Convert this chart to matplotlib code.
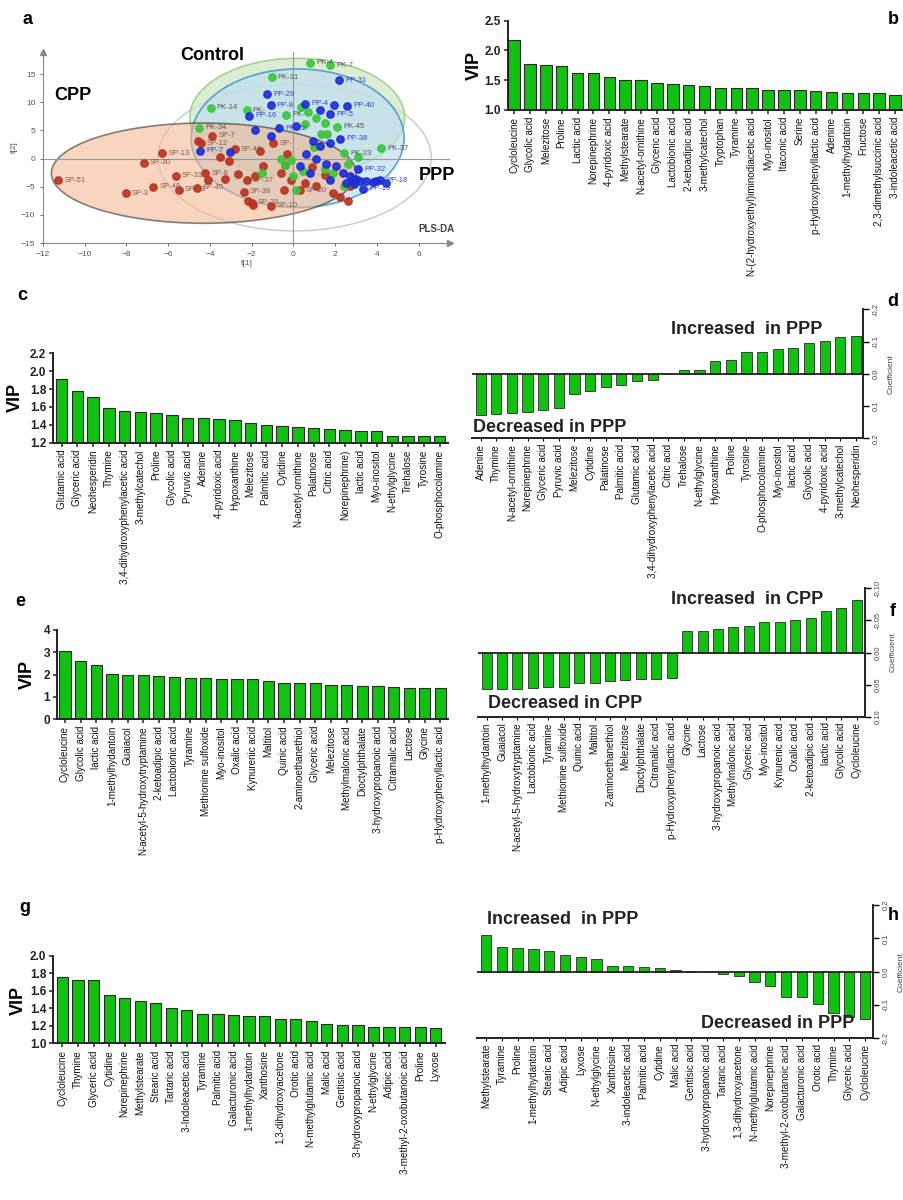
import numpy as np
import matplotlib
matplotlib.use("Agg")
import matplotlib.pyplot as plt
from matplotlib.patches import Ellipse

plt.rcParams["font.family"] = ["Liberation Sans", "DejaVu Sans"]

W, H = 904, 1200
GREEN = "#12c012"
EDGE = "#2a2a2a"

# ---------------- panel a: PLS-DA scores ----------------
sp_x = [-11.27, -8.04, -7.17, -6.30, -6.73, -5.49, -5.65, -4.24, -4.09, -4.63, -3.89, -4.44,
        -3.53, -3.27, -2.68, -2.25, -1.85, -1.45, -2.39, -2.01, -1.95, -1.10, -0.97, -0.42,
        -0.46, -0.13, 0.54, 0.30, 1.10, 1.90, 2.22, 2.60, -4.55, 2.70, -2.81, -1.60, -3.10,
        -0.60, 0.90, 1.50, -0.30, -2.20]
sp_y = [-3.85, -6.15, -0.77, 0.95, -4.97, -5.56, -3.02, -2.60, -3.79, -5.21, 4.02, 2.72,
        0.24, -3.67, -2.78, -3.85, -3.02, -1.30, -5.92, -7.81, -8.20, -8.40, 2.72, -1.12,
        -5.62, -3.85, -4.38, -5.62, -4.85, -6.04, -6.92, -7.50, 3.10, -4.90, 1.66, 1.40,
        -0.50, -2.50, -1.50, -3.00, 0.80, -7.60]
sp_lab = ["SP-51", "SP-3", "SP-30", "SP-13", "SP-48", "SP-43", "SP-31", "SP-8", "", "SP-45",
          "SP-7", "SP-12", "", "", "", "SP-37", "", "", "SP-38", "SP-28", "", "SP-10", "SP-",
          "", "", "", "", "SP-20", "", "", "", "", "", "", "SP-46", "", "", "", "", "", "", ""]

pk_x = [0.78, 1.74, -1.05, -3.97, -2.25, -0.34, 0.38, 0.70, 1.10, 1.50, 0.55, 2.09, 1.30,
        1.60, 4.18, 2.41, -4.53, -0.58, -0.10, -0.42, 0.46, 1.90, 0.14, 2.40, 0.00, 1.50,
        2.90, 3.10, 1.00, 2.60, -1.50]
pk_y = [17.04, 16.57, 14.44, 8.99, 8.58, 7.81, 9.23, 8.17, 7.22, 6.27, 6.10, 5.68, 4.30,
        4.30, 1.78, 0.95, 5.50, 0.00, -0.30, -1.20, -2.19, -2.50, -5.56, -4.80, -3.10, -1.90,
        -4.60, 0.20, 2.00, -1.00, -2.60]
pk_lab = ["PK-4", "PK-7", "PK-31", "PK-14", "PK-", "PK-", "", "", "", "", "", "PK-45",
          "", "", "PK-37", "PK-23", "PK-34", "", "", "", "", "", "", "", "", "", "",
          "", "", "", ""]

pp_x = [2.19, -1.26, -1.10, -2.14, 0.54, 1.26, 1.95, 2.58, 1.74, 0.14, -0.70, -1.85, -1.10,
        2.22, -4.48, -3.05, 0.95, 1.26, 1.74, 3.09, 3.49, 3.97, 4.45, 3.33, 0.62, 1.10, 1.58,
        2.06, 2.38, 2.70, 3.02, 0.30, 0.78, 2.86, 3.18, 3.81, 4.13, 1.74, 2.90, 2.50]
pp_y = [13.90, 11.42, 9.47, 7.63, 9.70, 8.58, 9.59, 9.35, 7.87, 5.80, 5.38, 5.03, 4.00,
        3.55, 1.36, 1.07, 3.10, 2.20, 2.80, -1.89, -3.96, -3.96, -4.26, -5.33, 0.77, -0.12,
        -1.00, -1.30, -2.50, -3.10, -3.70, -1.30, -2.50, -3.85, -4.00, -4.20, -3.85, -3.85,
        -4.50, -4.40]
pp_lab = ["PP-31", "PP-29", "PP-8", "PP-16", "PP-4", "", "", "PP-40", "PP-5", "",
          "PP-22", "", "", "PP-38", "PP-7", "", "", "", "", "PP-32", "", "", "", "PP-19",
          "", "", "", "", "", "", "", "", "", "", "", "", "PP-18", "", "", ""]

# ---------------- panel b ----------------
b_names = ["Cycloleucine", "Glycolic acid", "Melezitose", "Proline", "Lactic acid",
           "Norepinephrine", "4-pyridoxic acid", "Methylstearate", "N-acetyl-ornithine",
           "Glyceric acid", "Lactobionic acid", "2-ketoadipic acid", "3-methylcatechol",
           "Tryptophan", "Tyramine", "N-(2-hydroxyethyl)iminodiacetic acid", "Myo-inositol",
           "Itaconic acid", "Serine", "p-Hydroxyphenyllactic acid", "Adenine",
           "1-methylhydantoin", "Fructose", "2,3-dimethylsuccinic acid", "3-indoleacetic acid"]
b_vip = [2.18, 1.78, 1.76, 1.74, 1.62, 1.62, 1.55, 1.50, 1.50, 1.46, 1.43, 1.42, 1.40, 1.37,
         1.37, 1.37, 1.34, 1.34, 1.33, 1.32, 1.31, 1.29, 1.28, 1.28, 1.26]

# ---------------- panel c ----------------
c_names = ["Glutamic acid", "Glyceric acid", "Neohesperidin", "Thymine",
           "3,4-dihydroxyphenylacetic acid", "3-methylcatechol", "Proline", "Glycolic acid",
           "Pyruvic acid", "Adenine", "4-pyridoxic acid", "Hypoxanthine", "Melezitose",
           "Palmitic acid", "Cytidine", "N-acetyl-ornithine", "Palatinose", "Citric acid",
           "Norepinephrine)", "lactic acid", "Myo-inositol", "N-ethylglycine", "Trehalose",
           "Tyrosine", "O-phosphocolamine"]
c_vip = [1.91, 1.78, 1.71, 1.59, 1.56, 1.54, 1.53, 1.51, 1.48, 1.48, 1.46, 1.45, 1.42, 1.40,
         1.39, 1.38, 1.36, 1.35, 1.34, 1.33, 1.33, 1.28, 1.28, 1.27, 1.27]

# ---------------- panel d ----------------
d_names = ["Adenine", "Thymine", "N-acetyl-ornithine", "Norepinephrine", "Glyceric acid",
           "Pyruvic acid", "Melezitose", "Cytidine", "Palatinose", "Palmitic acid",
           "Glutamic acid", "3,4-dihydroxyphenylacetic acid", "Citric acid", "Trehalose",
           "N-ethylglycine", "Hypoxanthine", "Proline", "Tyrosine", "O-phosphocolamine",
           "Myo-inositol", "lactic acid", "Glycolic acid", "4-pyridoxic acid",
           "3-methylcatechol", "Neohesperidin"]
d_coef = [0.127, 0.124, 0.123, 0.119, 0.111, 0.107, 0.062, 0.052, 0.040, 0.036, 0.021, 0.020,
          0.0, -0.011, -0.013, -0.039, -0.043, -0.067, -0.067, -0.077, -0.081, -0.094,
          -0.103, -0.114, -0.117]

# ---------------- panel e ----------------
e_names = ["Cycloleucine", "Glycolic acid", "lactic acid", "1-methylhydantoin", "Guaiacol",
           "N-acetyl-5-hydroxytryptamine", "2-ketoadipic acid", "Lactobionic acid", "Tyramine",
           "Methionine sulfoxide", "Myo-inositol", "Oxalic acid", "Kynurenic acid", "Maltitol",
           "Quinic acid", "2-aminoethanethiol", "Glyceric acid", "Melezitose",
           "Methylmalonic acid", "Dioctylphthalate", "3-hydroxypropanoic acid",
           "Citramalic acid", "Lactose", "Glycine", "p-Hydroxyphenyllactic acid"]
e_vip = [3.07, 2.62, 2.43, 2.02, 1.99, 1.98, 1.95, 1.90, 1.86, 1.86, 1.81, 1.81, 1.81, 1.69,
         1.63, 1.62, 1.60, 1.54, 1.53, 1.50, 1.50, 1.42, 1.41, 1.41, 1.38]

# ---------------- panel f ----------------
f_names = ["1-methylhydantoin", "Guaiacol", "N-acetyl-5-hydroxytryptamine", "Lactobionic acid",
           "Tyramine", "Methionine sulfoxide", "Quinic acid", "Maltitol", "2-aminoethanethiol",
           "Melezitose", "Dioctylphthalate", "Citramalic acid", "p-Hydroxyphenyllactic acid",
           "Glycine", "Lactose", "3-hydroxypropanoic acid", "Methylmalonic acid",
           "Glyceric acid", "Myo-inositol", "Kynurenic acid", "Oxalic acid",
           "2-ketoadipic acid", "lactic acid", "Glycolic acid", "Cycloleucine"]
f_coef = [0.057, 0.057, 0.057, 0.055, 0.054, 0.053, 0.047, 0.047, 0.045, 0.043, 0.042, 0.041,
          0.039, -0.033, -0.034, -0.036, -0.039, -0.042, -0.047, -0.047, -0.051, -0.053,
          -0.065, -0.070, -0.082]

# ---------------- panel g ----------------
g_names = ["Cycloleucine", "Thymine", "Glyceric acid", "Cytidine", "Norepinephrine",
           "Methylstearate", "Stearic acid", "Tartaric acid", "3-Indoleacetic acid",
           "Tyramine", "Palmitic acid", "Galacturonic acid", "1-methylhydantoin", "Xanthosine",
           "1,3-dihydroxyacetone", "Orotic acid", "N-methylglutamic acid", "Malic acid",
           "Gentisic acid", "3-hydroxypropanoic acid", "N-ethylglycine", "Adipic acid",
           "3-methyl-2-oxobutanoic acid", "Proline", "Lyxose"]
g_vip = [1.76, 1.73, 1.73, 1.55, 1.52, 1.49, 1.46, 1.41, 1.38, 1.34, 1.34, 1.32, 1.31, 1.31,
         1.28, 1.28, 1.25, 1.22, 1.21, 1.21, 1.19, 1.19, 1.19, 1.19, 1.18]

# ---------------- panel h ----------------
h_names = ["Methylstearate", "Tyramine", "Proline", "1-methylhydantoin", "Stearic acid",
           "Adipic acid", "Lyxose", "N-ethylglycine", "Xanthosine", "3-indoleacetic acid",
           "Palmitic acid", "Cytidine", "Malic acid", "Gentisic acid",
           "3-hydroxypropanoic acid", "Tartaric acid", "1,3-dihydroxyacetone",
           "N-methylglutamic acid", "Norepinephrine", "3-methyl-2-oxobutanoic acid",
           "Galacturonic acid", "Orotic acid", "Thymine", "Glyceric acid", "Cycloleucine"]
h_coef = [0.110, 0.075, 0.070, 0.068, 0.063, 0.049, 0.045, 0.037, 0.018, 0.016, 0.013, 0.010,
          0.005, 0.002, 0.0, -0.008, -0.013, -0.030, -0.043, -0.077, -0.077, -0.098, -0.123,
          -0.135, -0.143]


def rect(x0, y0, x1, y1):
    # pixel box (top-left origin) -> figure fraction
    return [x0 / W, 1 - y1 / H, (x1 - x0) / W, (y1 - y0) / H]


def ftext(x, y, s, **kw):
    fig.text(x / W, 1 - y / H, s, **kw)


def vip_panel(box, names, vals, xlim, ylim, yticks, fmt):
    ax = fig.add_axes(rect(*box))
    x = np.arange(len(vals))
    ax.bar(x, vals, width=0.72, color=GREEN, edgecolor=EDGE, linewidth=0.8)
    ax.set_xlim(*xlim)
    ax.set_ylim(*ylim)
    ax.set_yticks(yticks)
    ax.set_yticklabels([fmt % v for v in yticks], fontsize=8.5, fontweight="bold", color="#222")
    ax.set_xticks(x)
    ax.set_xticklabels(names, rotation=90, fontsize=7.1, color="#111")
    for s in ("top", "right"):
        ax.spines[s].set_visible(False)
    for s in ("left", "bottom"):
        ax.spines[s].set_linewidth(1.4)
        ax.spines[s].set_color("#222")
    ax.tick_params(axis="both", length=3, width=1.1, pad=2, color="#222")
    return ax


def coef_panel(box, names, vals, xlim, ylim, yticks, fmt):
    ax = fig.add_axes(rect(*box))
    x = np.arange(len(vals))
    ax.bar(x, vals, width=0.65, color=GREEN, edgecolor=EDGE, linewidth=0.6)
    ax.axhline(0, color="#222", lw=1.3)
    ax.set_xlim(*xlim)
    ax.set_ylim(*ylim)
    ax.yaxis.tick_right()
    ax.yaxis.set_label_position("right")
    ax.set_yticks(yticks)
    ax.set_yticklabels([fmt % v for v in yticks], fontsize=5.5, color="#444",
                       rotation=90, va="center")
    ax.set_ylabel("Coefficient", fontsize=6, color="#444", rotation=90, labelpad=6)
    ax.set_xticks(x)
    ax.set_xticklabels(names, rotation=90, fontsize=7.1, color="#111")
    for s in ("top", "left"):
        ax.spines[s].set_visible(False)
    for s in ("right", "bottom"):
        ax.spines[s].set_linewidth(1.4)
        ax.spines[s].set_color("#222")
    ax.tick_params(axis="x", length=2, width=0.8, pad=2)
    ax.tick_params(axis="y", length=4, width=1.0, pad=3)
    return ax


fig = plt.figure(figsize=(9.04, 12), dpi=100)

# ---- a ----
ax = fig.add_axes(rect(43, 51.5, 450, 243))
ax.set_xlim(-12, 7.5)
ax.set_ylim(-15, 19)
ax.add_patch(Ellipse((0.05, 0.15), 13.1, 26.0, fill=False, ec="#c8c8c8", lw=1.0))
ax.add_patch(Ellipse((0.18, 7.3), 10.3, 21.0, fc="#cfe8c4", ec="#8cc870", lw=1.2, alpha=0.75))
ax.add_patch(Ellipse((0.2, 3.6), 10.2, 24.6, fc="#bfe0f0", ec="#2f86c8", lw=1.3, alpha=0.7))
ax.add_patch(Ellipse((-4.3, -2.6), 14.6, 17.8, fc="#f4b48c", ec="#222", lw=1.2, alpha=0.55))
ax.axhline(0, color="#999", lw=0.8, zorder=1)
ax.axvline(0, color="#999", lw=0.8, zorder=1)
for xs, ys, labs, col, tcol in ((sp_x, sp_y, sp_lab, "#b8321e", "#8a5a4a"),
                                (pk_x, pk_y, pk_lab, "#3cc43c", "#555555"),
                                (pp_x, pp_y, pp_lab, "#1c2bd4", "#3344cc")):
    ax.scatter(xs, ys, s=28, color=col, edgecolors=col, zorder=3, alpha=0.9)
    for xv, yv, t in zip(xs, ys, labs):
        if t:
            ax.text(xv + 0.3, yv, t, fontsize=5.5, color=tcol, va="center", zorder=4)
ax.set_xticks(np.arange(-12, 7, 2))
ax.set_yticks(np.arange(-15, 16, 5))
ax.tick_params(labelsize=6, colors="#555", length=2, width=0.6)
for s in ("top", "right"):
    ax.spines[s].set_visible(False)
for s in ("left", "bottom"):
    ax.spines[s].set_color("#888")
    ax.spines[s].set_linewidth(0.8)
ax.plot(1, 0, ">", color="#888", ms=4, transform=ax.transAxes, clip_on=False)
ax.plot(0, 1, "^", color="#888", ms=4, transform=ax.transAxes, clip_on=False)
ax.set_xlabel("t[1]", fontsize=6, color="#555", labelpad=2)
ax.set_ylabel("t[2]", fontsize=6, color="#555", labelpad=2)
ftext(212, 55, "Control", fontsize=13, fontweight="bold", ha="center", va="center")
ftext(73, 95, "CPP", fontsize=13, fontweight="bold", ha="center", va="center")
ftext(437, 175, "PPP", fontsize=13, fontweight="bold", ha="center", va="center")
ftext(436, 229, "PLS-DA", fontsize=7, fontweight="bold", color="#444", ha="center", va="center")

# ---- b, c, e, g (VIP) ----
vip_panel((508, 20.7, 903, 110), b_names, b_vip, (-0.38, 24.5), (1.0, 2.5),
          [1.0, 1.5, 2.0, 2.5], "%.1f")
vip_panel((53.3, 353.3, 448.3, 442.7), c_names, c_vip, (-0.53, 24.55), (1.2, 2.2),
          [1.2, 1.4, 1.6, 1.8, 2.0, 2.2], "%.1f")
vip_panel((57.3, 630, 448.3, 719), e_names, e_vip, (-0.49, 24.5), (0, 4),
          [0, 1, 2, 3, 4], "%d")
vip_panel((53.3, 956, 445, 1043.3), g_names, g_vip, (-0.59, 24.6), (1.0, 2.0),
          [1.0, 1.2, 1.4, 1.6, 1.8, 2.0], "%.1f")
for x, y in ((474, 65), (15, 397), (27, 674), (18, 1000)):
    ftext(x, y, "VIP", fontsize=13, fontweight="bold", rotation=90, ha="center", va="center")

# ---- d, f, h (coefficients) ----
coef_panel((472, 309.3, 863, 438.3), d_names, d_coef, (-0.55, 24.45), (0.2, -0.2),
           [-0.2, -0.1, 0.0, 0.1, 0.2], "%.1f")
coef_panel((478, 588.3, 865, 716.7), f_names, f_coef, (-0.56, 24.53), (0.1, -0.1),
           [-0.1, -0.05, 0.0, 0.05, 0.1], "%.2f")
coef_panel((477, 905, 873, 1038.3), h_names, h_coef, (-0.57, 24.5), (-0.2, 0.2),
           [-0.2, -0.1, 0.0, 0.1, 0.2], "%.1f")

note = dict(fontsize=13, fontweight="bold", color="#222", ha="center", va="center")
ftext(747, 330, "Increased  in PPP", **note)
ftext(550, 427, "Decreased in PPP", **note)
ftext(747, 600, "Increased  in CPP", **note)
ftext(565, 703, "Decreased in CPP", **note)
ftext(563, 919, "Increased  in PPP", **note)
ftext(778, 1024, "Decreased in PPP", **note)

# panel letters
for x, y, s in ((28, 20, "a"), (893, 20, "b"), (22, 296, "c"), (893, 302, "d"),
                (20, 602, "e"), (893, 612, "f"), (25, 907, "g"), (893, 916, "h")):
    ftext(x, y, s, fontsize=13, fontweight="bold", ha="center", va="center")

fig.savefig("out.png", dpi=100)
